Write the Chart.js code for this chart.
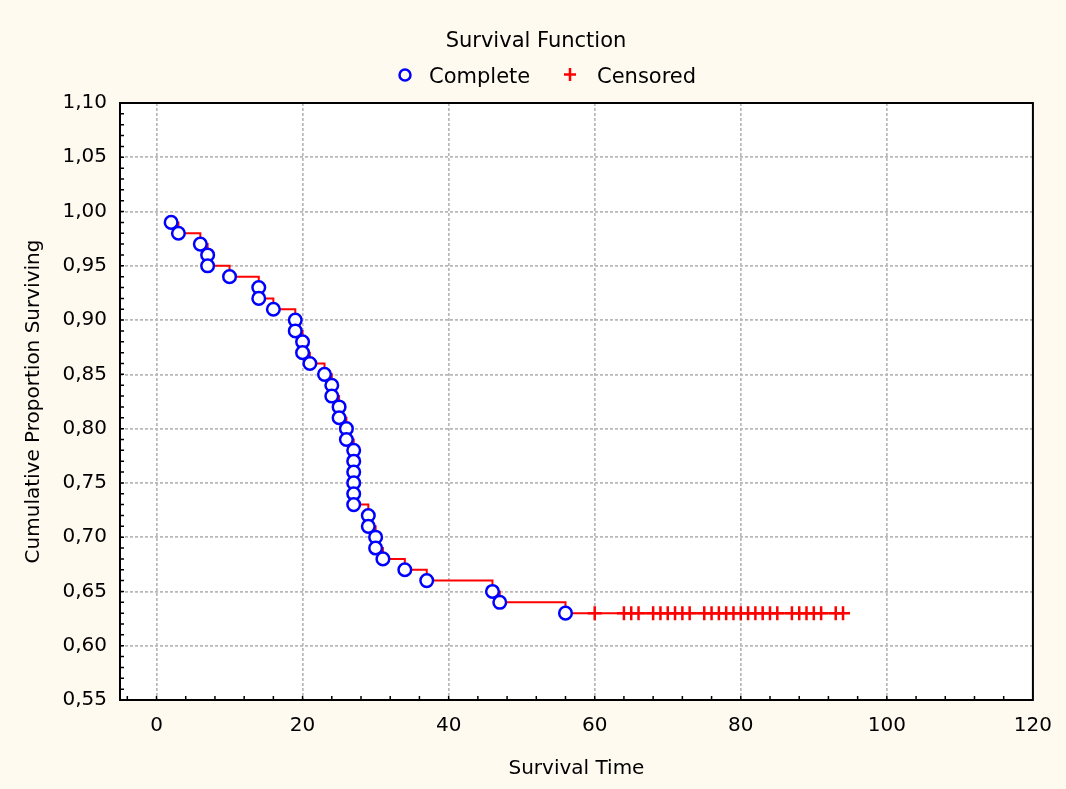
<!DOCTYPE html>
<html>
<head>
<meta charset="utf-8">
<script src="https://cdn.jsdelivr.net/npm/chart.js@4.4.1/dist/chart.umd.min.js"></script>
<style>
  html, body { margin: 0; padding: 0; background: #fffaf0; }
</style>
</head>
<body>
<canvas id="survChart" width="1066" height="789"></canvas>
<script>
// Kaplan-Meier survival estimate
const eventTimes = [2, 3, 6, 7, 7, 10, 14, 14, 16, 19, 19, 20, 20, 21, 23, 24, 24, 25, 25, 26, 26,
  27, 27, 27, 27, 27, 27, 29, 29, 30, 30, 31, 34, 37, 46, 47, 56];
const eventSurv = [0.99, 0.98, 0.97, 0.96, 0.95, 0.94, 0.93, 0.92, 0.91, 0.90, 0.89, 0.88, 0.87,
  0.86, 0.85, 0.84, 0.83, 0.82, 0.81, 0.80, 0.79, 0.78, 0.77, 0.76, 0.75, 0.74, 0.73, 0.72, 0.71,
  0.70, 0.69, 0.68, 0.67, 0.66, 0.65, 0.64, 0.63];
const censTimes = [60, 64, 65, 66, 68, 69, 70, 71, 72, 73, 75, 76, 77, 78, 79, 80, 81, 82, 83, 84,
  85, 87, 88, 89, 90, 91, 93, 94];
const censSurv = [0.63, 0.63, 0.63, 0.63, 0.63, 0.63, 0.63, 0.63, 0.63, 0.63, 0.63, 0.63, 0.63, 0.63,
  0.63, 0.63, 0.63, 0.63, 0.63, 0.63, 0.63, 0.63, 0.63, 0.63, 0.63, 0.63, 0.63, 0.63];
const xTicks = [0, 20, 40, 60, 80, 100, 120];
const yTicks = [0.55, 0.60, 0.65, 0.70, 0.75, 0.80, 0.85, 0.90, 0.95, 1.00, 1.05, 1.10];

const completePts = eventTimes.map((t, i) => ({x: t, y: eventSurv[i]}));
const censoredPts = censTimes.map((t, i) => ({x: t, y: censSurv[i]}));
const stepPts = completePts.concat(censoredPts);

Chart.defaults.font.family = '"DejaVu Sans", sans-serif';
Chart.defaults.color = '#000';

// background, plot frame, minor ticks, title and legend
const frame = {
  id: 'frame',
  beforeDraw(chart) {
    const {ctx, chartArea: a} = chart;
    ctx.save();
    ctx.fillStyle = '#fffaf0';
    ctx.fillRect(0, 0, chart.width, chart.height);
    ctx.fillStyle = '#ffffff';
    ctx.fillRect(a.left, a.top, a.right - a.left, a.bottom - a.top);
    ctx.restore();
  },
  afterDraw(chart) {
    const {ctx, chartArea: a, scales: {x, y}} = chart;
    ctx.save();
    ctx.strokeStyle = '#000';
    ctx.lineWidth = 2;
    ctx.strokeRect(a.left, a.top, a.right - a.left, a.bottom - a.top);
    ctx.lineWidth = 1.5;
    ctx.beginPath();
    for (let v = -4; v < 120; v += 4) {
      const px = x.getPixelForValue(v);
      ctx.moveTo(px, a.bottom);
      ctx.lineTo(px, a.bottom - 4);
    }
    for (let i = 56; i < 110; i++) {
      const py = y.getPixelForValue(i / 100);
      ctx.moveTo(a.left, py);
      ctx.lineTo(a.left + 4, py);
    }
    ctx.stroke();

    const ds = chart.data.datasets;
    ctx.font = '21px "DejaVu Sans"';
    ctx.fillStyle = '#000';
    ctx.textBaseline = 'alphabetic';
    ctx.textAlign = 'center';
    ctx.fillText('Survival Function', 536, 46.5);
    ctx.textAlign = 'left';
    ctx.fillText(ds[0].label, 429, 82.5);
    ctx.fillText(ds[1].label, 597, 82.5);
    // legend markers
    ctx.strokeStyle = ds[0].borderColor;
    ctx.lineWidth = 2.5;
    ctx.beginPath();
    ctx.arc(405, 75, 5.5, 0, Math.PI * 2);
    ctx.stroke();
    ctx.strokeStyle = ds[1].borderColor;
    ctx.lineWidth = 2.5;
    ctx.beginPath();
    ctx.moveTo(570, 68); ctx.lineTo(570, 81);
    ctx.moveTo(564, 74.5); ctx.lineTo(576, 74.5);
    ctx.stroke();
    ctx.restore();
  }
};

new Chart(document.getElementById('survChart'), {
  type: 'scatter',
  data: {
    datasets: [
      {
        label: 'Complete',
        data: completePts,
        pointStyle: 'circle',
        pointRadius: 6.3,
        pointBorderWidth: 2.5,
        borderColor: '#0000ff',
        backgroundColor: '#ffffff',
        order: 0
      },
      {
        label: 'Censored',
        data: censoredPts,
        pointStyle: 'cross',
        pointRadius: 7,
        pointBorderWidth: 2.5,
        borderColor: '#ff0000',
        backgroundColor: '#ff0000',
        order: 1
      },
      {
        label: 'Survival',
        data: stepPts,
        showLine: true,
        stepped: true,
        pointRadius: 0,
        borderColor: '#ff0000',
        borderWidth: 2,
        order: 2
      }
    ]
  },
  options: {
    responsive: false,
    animation: false,
    events: [],
    layout: { padding: { top: 103, right: 29, left: 0, bottom: 0 } },
    plugins: {
      legend: { display: false },
      title: { display: false },
      tooltip: { enabled: false }
    },
    scales: {
      x: {
        type: 'linear',
        min: -5,
        max: 120,
        afterBuildTicks: (s) => { s.ticks = xTicks.map(v => ({value: v})); },
        afterFit: (s) => { s.height = 89; },
        grid: { color: '#b8b8b8', lineWidth: 1.7, drawTicks: false },
        border: { display: false, dash: [3, 2] },
        ticks: { padding: 14, font: { size: 20 } },
        title: { display: true, text: 'Survival Time', font: { size: 20 }, padding: { top: 0, bottom: 8 } }
      },
      y: {
        type: 'linear',
        min: 0.55,
        max: 1.10,
        afterBuildTicks: (s) => { s.ticks = yTicks.map(v => ({value: v})); },
        afterFit: (s) => { s.width = 120; },
        grid: { color: '#b8b8b8', lineWidth: 1.7, drawTicks: false },
        border: { display: false, dash: [3, 2] },
        ticks: {
          padding: 13,
          font: { size: 20 },
          callback: (v) => v.toFixed(2).replace('.', ',')
        },
        title: { display: true, text: 'Cumulative Proportion Surviving', font: { size: 20 }, padding: { top: 22, bottom: 0 } }
      }
    }
  },
  plugins: [frame]
});
</script>
</body>
</html>
